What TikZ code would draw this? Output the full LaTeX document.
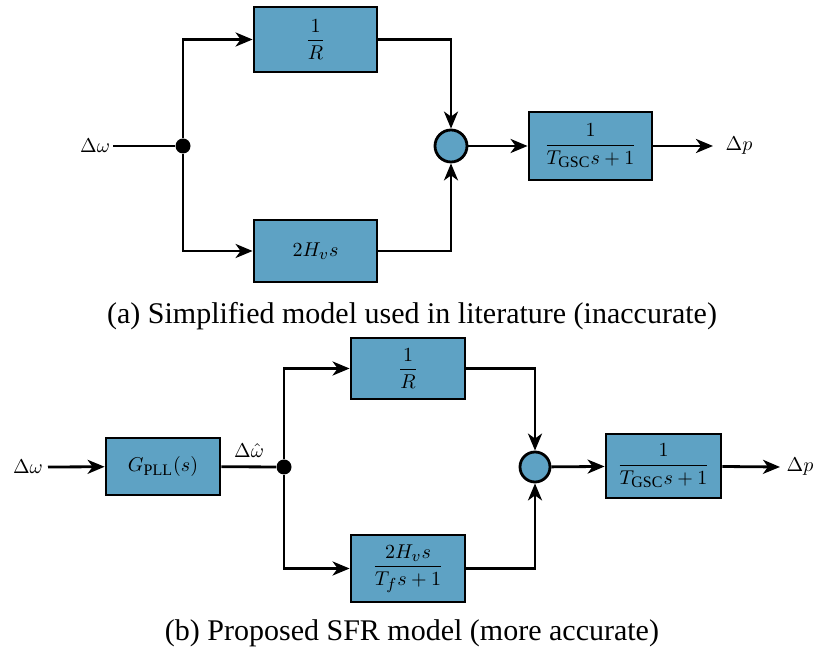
\documentclass[tikz,border=0pt]{standalone}
\usepackage{amsmath}
\usepackage{fontspec}
\setmainfont{Liberation Serif}
\DeclareMathSizes{10}{10}{8}{6}
\usetikzlibrary{arrows.meta}
\definecolor{boxcol}{RGB}{94,162,196}
\begin{document}
\begin{tikzpicture}[x=0.5pt,y=-0.5pt,
  blk/.style={draw=black,line width=1.4pt,fill=boxcol,inner sep=0pt,font=\normalsize},
  sumc/.style={draw=black,line width=1.4pt,fill=boxcol,circle,inner sep=0pt},
  dotc/.style={fill=black,circle,inner sep=0pt,minimum size=7.5pt},
  conn/.style={line width=1.4pt},
  arr/.style={conn,-{Stealth[length=8.5pt,width=7pt,inset=2.5pt]}},
  lbl/.style={inner sep=0pt},
  captxt/.style={inner sep=0pt,font=\fontsize{15}{18}\selectfont}]
\path[use as bounding box] (0,0) rectangle (814,656);
% ---------- (a) ----------
\node[lbl] (inlA) at (95,146) {$\Delta\omega$};
\coordinate (inA) at (113,146);
\node[dotc] (D1) at (183,146) {};
\node[blk,minimum width=61.5pt,minimum height=32.5pt] (A1) at (315.5,39.5) {$\dfrac{1}{R}$};
\node[blk,minimum width=61.5pt,minimum height=31pt] (A2) at (315.5,251) {$2H_v s$};
\node[sumc,minimum size=16pt] (S1) at (451,146) {};
\node[blk,minimum width=61.5pt,minimum height=34pt] (A3) at (590.5,146) {$\dfrac{1}{T_{\mathrm{GSC}}s+1}$};
\coordinate (outA) at (713,146);
\node[lbl] (outlA) at (739,146) {$\Delta p$};
\draw[conn] (inA) -- (D1);
\draw[arr] (D1) |- (A1.west);
\draw[arr] (D1) |- (A2.west);
\draw[arr] (A1.east) -| (S1.north);
\draw[arr] (A2.east) -| (S1.south);
\draw[arr] (S1) -- (A3);
\draw[arr] (A3) -- (outA);
\node[captxt] (capA) at (412,316) {(a) Simplified model used in literature (inaccurate)};
% ---------- (b) ----------
\node[lbl] (inlB) at (28,467) {$\Delta\omega$};
\coordinate (inB) at (48,467);
\node[blk,minimum width=57pt,minimum height=28.5pt] (G) at (163,466.5) {$G_{\mathrm{PLL}}(s)$};
\node[dotc] (D2) at (284,467) {};
\node[lbl,anchor=south] (hatl) at (249,458) {$\Delta\hat{\omega}$};
\node[blk,minimum width=57pt,minimum height=30.5pt] (B1) at (408,368.5) {$\dfrac{1}{R}$};
\node[blk,minimum width=57pt,minimum height=33.5pt] (B2) at (408,568.5) {$\dfrac{2H_v s}{T_f s+1}$};
\node[sumc,minimum size=15pt] (S2) at (535,467) {};
\node[blk,minimum width=57.5pt,minimum height=32pt] (B3) at (663.5,466) {$\dfrac{1}{T_{\mathrm{GSC}}s+1}$};
\coordinate (outB) at (780,467);
\node[lbl] (outlB) at (800,467) {$\Delta p$};
\draw[arr] (inB) -- (G);
\draw[conn] (G) -- (D2);
\draw[arr] (D2) |- (B1.west);
\draw[arr] (D2) |- (B2.west);
\draw[arr] (B1.east) -| (S2.north);
\draw[arr] (B2.east) -| (S2.south);
\draw[arr] (S2) -- (B3);
\draw[arr] (B3) -- (outB);
\node[captxt] (capB) at (412,633) {(b) Proposed SFR model (more accurate)};
\end{tikzpicture}
\end{document}
